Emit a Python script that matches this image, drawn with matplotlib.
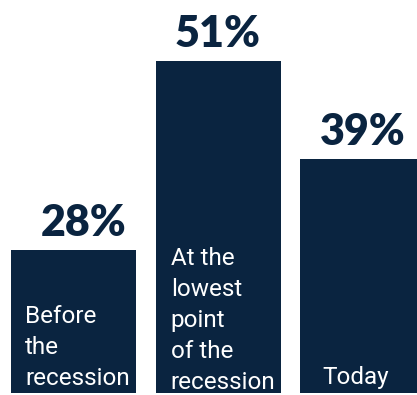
import matplotlib.pyplot as plt

# Share of respondents at each stage
categories = ['Before\nthe\nrecession', 'At the\nlowest\npoint\nof the\nrecession', 'Today']
values = [28, 51, 39]
value_labels = ['28%', '51%', '39%']

navy = '#0a2440'

fig = plt.figure(figsize=(4.17, 3.95), dpi=100)
ax = fig.add_axes([0, 2 / 395, 1, 393 / 395])

x = list(range(len(values)))
bars = ax.bar(x, values, width=0.865, color=navy, bottom=0)

# truncated value axis so the tall bar sits near the top
ax.set_xlim(-0.5086, 2.377)
ax.set_ylim(10.5, 10.5 + 393 / 8.2)
ax.axis('off')

label_shift = [7, 0, 0]
for rect, lab, dx in zip(bars, value_labels, label_shift):
    ax.annotate(lab, (rect.get_x() + rect.get_width() / 2, rect.get_height()),
                xytext=(dx, 5), textcoords='offset points',
                ha='center', va='bottom', fontsize=31, fontweight='heavy',
                family='Lato', color=navy)

text_offsets = [(10, 2), (11, -1), (16, 3)]
for rect, cat, (dx, dy) in zip(bars, categories, text_offsets):
    ax.annotate(cat, (rect.get_x(), 10.5), xytext=(dx, dy), textcoords='offset points',
                ha='left', va='bottom', fontsize=17.5, family='Roboto',
                color='white', linespacing=1.45, annotation_clip=False)

fig.savefig('out.png', dpi=100)
